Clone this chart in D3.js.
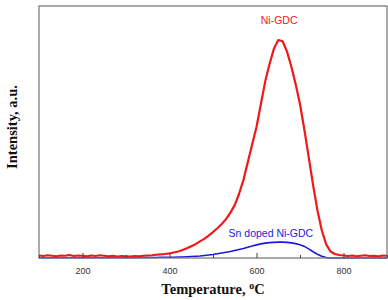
<!DOCTYPE html>
<html lang="en">
<head>
    <meta charset="UTF-8">
    <title>TPR</title>
    <style>
        *{ box-sizing: border-box; }
        body{ margin: 0; background: #fff; }
        #main{ width: 388px; height: 300px; }
    </style>
</head>
<body>
<div id="main"></div>
<script src="https://d3js.org/d3.v7.min.js"></script>
<script>
    /*=========== data ===========*/
    // temperature grid (°C) shared by both curves
    const temps = d3.range(100, 901, 10)
    // Ni-GDC intensity, a.u.
    const niGdc = [
        1.0, 0.8, 1.1, 0.9, 0.7, 1.0, 0.9, 1.2, 0.8, 1.0,
        0.9, 0.7, 1.0, 0.8, 1.1, 0.9, 0.7, 0.9, 0.6, 0.8,
        0.7, 0.6, 0.8, 0.7, 0.9, 1.0, 1.1, 1.3, 1.4, 1.6,
        1.8, 2.2, 2.6, 3.2, 3.9, 4.7, 5.5, 6.6, 7.6, 8.9,
        10.3, 11.8, 13.5, 15.4, 18.0, 21.0, 25.5, 31.0, 38.0, 45.0,
        52.0, 61.0, 70.0, 77.0, 83.0, 86.5, 86.0, 82.0, 76.0, 69.0,
        61.0, 51.0, 40.0, 29.0, 19.0, 11.0, 5.5, 2.6, 1.6, 1.2,
        1.0, 0.8, 1.0, 0.7, 0.9, 1.1, 0.8, 0.9, 0.7, 1.0,
        0.9
    ]
    // Sn doped Ni-GDC intensity, a.u.
    const snNiGdc = [
        0.1, 0.1, 0.1, 0.1, 0.1, 0.1, 0.1, 0.1, 0.1, 0.1,
        0.1, 0.1, 0.1, 0.1, 0.1, 0.1, 0.1, 0.1, 0.1, 0.1,
        0.1, 0.1, 0.1, 0.2, 0.2, 0.2, 0.2, 0.2, 0.3, 0.3,
        0.3, 0.3, 0.4, 0.4, 0.5, 0.6, 0.7, 0.8, 1.0, 1.2,
        1.4, 1.7, 2.0, 2.3, 2.6, 3.0, 3.4, 3.8, 4.3, 4.8,
        5.2, 5.6, 5.9, 6.1, 6.2, 6.3, 6.3, 6.2, 6.0, 5.7,
        5.3, 4.6, 3.6, 2.5, 1.5, 0.7, 0.2, 0.0, 0.0, 0.0,
        0.0, 0.0, 0.0, 0.0, 0.0, 0.0, 0.0, 0.0, 0.0, 0.0,
        0.0
    ]
    const majorTicks = [200, 400, 600, 800]
    const minorTicks = [100, 300, 500, 700, 900]

    /*=========== container ===========*/
    const width = 388
    const height = 300
    const margin = {left: 39, right: 1, top: 6, bottom: 42}

    const svg = d3.select('#main').append('svg')
        .attr('width', width)
        .attr('height', height)
        .attr('viewBox', `0 0 ${width} ${height}`)

    const xScale = d3.scaleLinear()
        .domain([100, 900])
        .range([margin.left, width - margin.right])
    const yScale = d3.scaleLinear()
        .domain([0, 100])
        .range([height - margin.bottom, margin.top])

    const plotH = height - margin.bottom - margin.top
    const axisY = height - margin.bottom

    /*=========== curves ===========*/
    const line = d3.line()
        .x((d, i) => xScale(temps[i]))
        .y(d => yScale(d))

    svg.append('path')
        .datum(snNiGdc)
        .attr('d', line)
        .attr('fill', 'none')
        .attr('stroke', '#1a1adf')
        .attr('stroke-width', 1.6)

    svg.append('path')
        .datum(niGdc)
        .attr('d', line)
        .attr('fill', 'none')
        .attr('stroke', '#f01818')
        .attr('stroke-width', 2.2)
        .attr('stroke-linejoin', 'round')

    /*=========== frame & axis ===========*/
    svg.append('rect')
        .attr('x', margin.left)
        .attr('y', margin.top)
        .attr('width', width - margin.left - margin.right)
        .attr('height', plotH)
        .attr('fill', 'none')
        .attr('stroke', '#7d7d7d')
        .attr('stroke-width', 1.3)

    const xAxis = svg.append('g')
        .attr('transform', `translate(0,${axisY})`)
        .call(d3.axisBottom(xScale).tickValues(majorTicks).tickSize(-5).tickPadding(10))
    xAxis.select('.domain').remove()
    xAxis.selectAll('line').attr('stroke', '#444')
    xAxis.selectAll('text')
        .style('font-family', 'Arial, "Liberation Sans", sans-serif')
        .style('font-size', '9px')
        .attr('fill', '#333')

    const xMinor = svg.append('g')
        .attr('transform', `translate(0,${axisY})`)
        .call(d3.axisBottom(xScale).tickValues(minorTicks).tickSize(-3).tickFormat(''))
    xMinor.select('.domain').remove()
    xMinor.selectAll('line').attr('stroke', '#444')

    /*=========== labels ===========*/
    svg.append('text')
        .attr('x', xScale(652))
        .attr('y', 24)
        .attr('text-anchor', 'middle')
        .attr('fill', '#f01818')
        .style('font-family', 'Arial, "Liberation Sans", sans-serif')
        .style('font-size', '10.5px')
        .text('Ni-GDC')

    svg.append('text')
        .attr('x', xScale(633))
        .attr('y', 237)
        .attr('text-anchor', 'middle')
        .attr('fill', '#1a1adf')
        .style('font-family', 'Arial, "Liberation Sans", sans-serif')
        .style('font-size', '10.5px')
        .text('Sn doped Ni-GDC')

    const xTitle = svg.append('text')
        .attr('x', (margin.left + width - margin.right) / 2)
        .attr('y', 294)
        .attr('text-anchor', 'middle')
        .style('font-family', '"Liberation Serif", "Times New Roman", serif')
        .style('font-size', '14.5px')
        .style('font-weight', 'bold')
        .attr('fill', '#111')
    xTitle.append('tspan').text('Temperature, ')
    xTitle.append('tspan').attr('dy', -5).style('font-size', '10px').text('o')
    xTitle.append('tspan').attr('dy', 5).text('C')

    svg.append('text')
        .attr('transform', `translate(16.5,127) rotate(-90)`)
        .attr('text-anchor', 'middle')
        .style('font-family', '"Liberation Serif", "Times New Roman", serif')
        .style('font-size', '14.5px')
        .style('font-weight', 'bold')
        .attr('fill', '#111')
        .text('Intensity, a.u.')
</script>
</body>
</html>
